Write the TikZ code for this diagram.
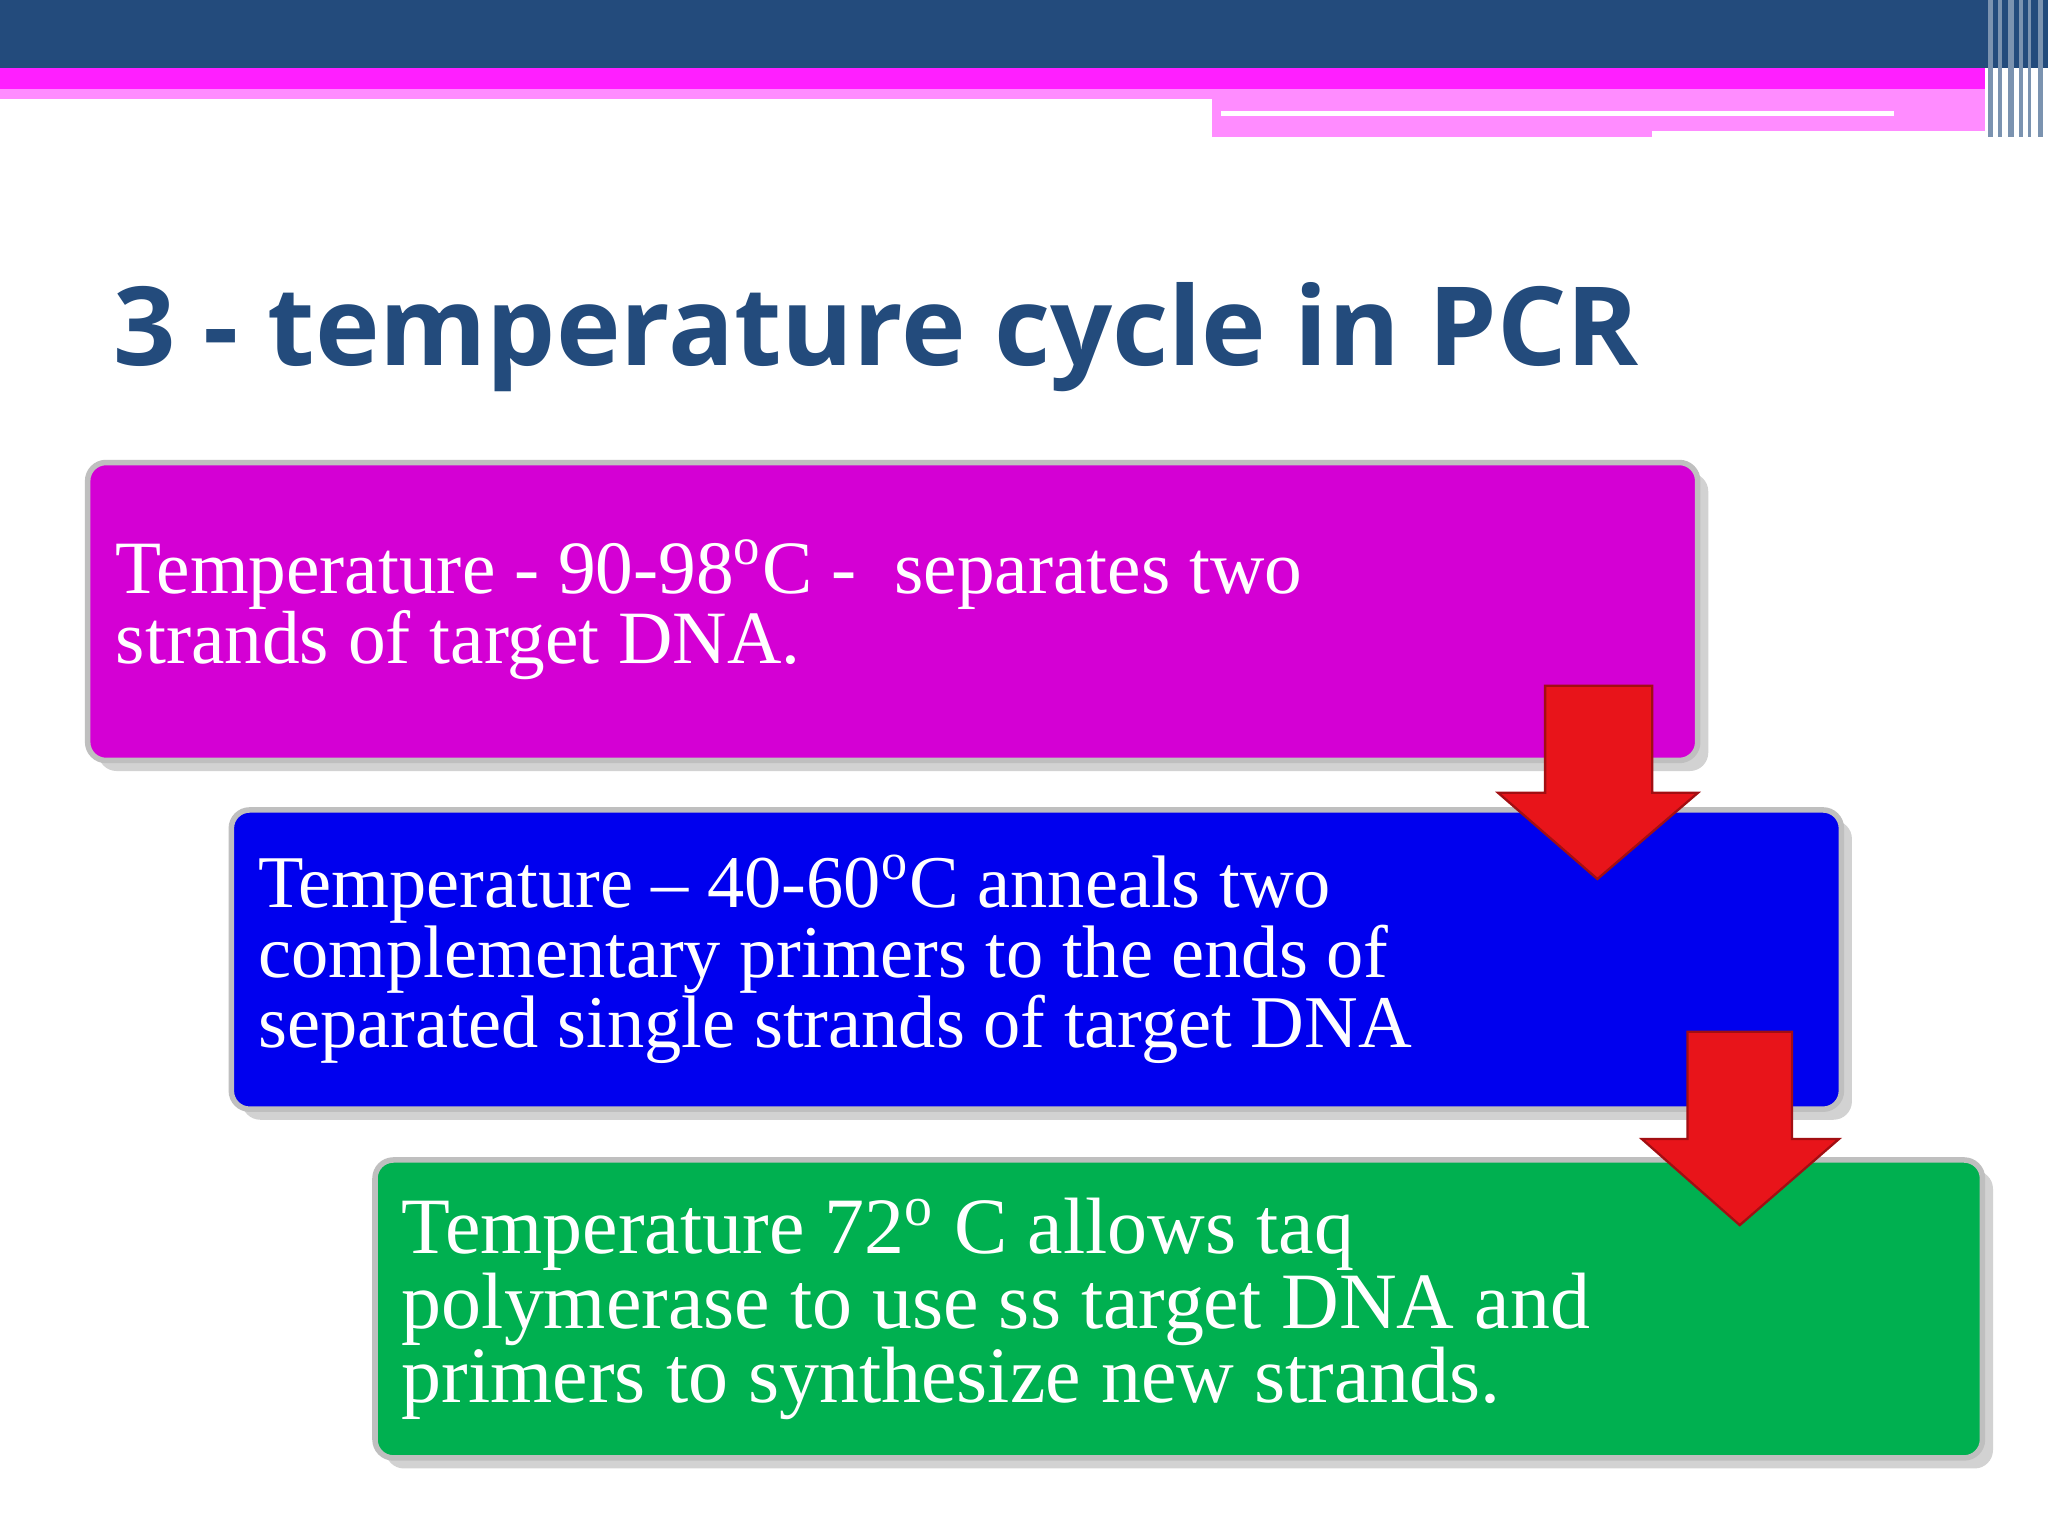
\documentclass[tikz,border=0pt]{standalone}
\usepackage{fontspec}
\setmainfont{Liberation Serif}
\newfontfamily\titlefont{Open Sans}
\definecolor{navy}{HTML}{234B7C}
\definecolor{mag}{HTML}{FF1FFF}
\definecolor{lpink}{HTML}{FF8CFF}
\definecolor{b1}{HTML}{D400D4}
\definecolor{b2}{HTML}{0000EE}
\definecolor{b3}{HTML}{00B050}
\definecolor{arr}{HTML}{E8141A}
\usetikzlibrary{shadows}
\tikzset{x=0.01cm,y=-0.01cm,
 box/.style={rounded corners=4pt, draw=black!25, line width=1.2pt, drop shadow={opacity=0.35}, anchor=north west, inner sep=0pt},
 boxtext/.style={anchor=base west, align=left, text=white, inner sep=0pt},
 redarrow/.style={fill=arr, draw=arr!70!black, line width=0.5pt}}
\begin{document}
\begin{tikzpicture}
\useasboundingbox (0,0) rectangle (1568,1176);
\fill[white] (0,0) rectangle (1568,1176);
% header
\fill[navy] (0,0) rectangle (1568,52);
\fill[mag] (0,52) rectangle (1520,68);
\fill[lpink] (0,68) rectangle (928,76);
\fill[lpink] (928,68) rectangle (1520,105);
\fill[white] (935,85) rectangle (1450,89);
\fill[white] (1265,100) rectangle (1520,105);
\foreach \x/\w in {1522/4,1530/3,1537/5,1546/3,1553/2,1560/4}{\fill[navy!60] (\x,0) rectangle (\x+\w,105);}
% title
\node[anchor=base west, inner sep=0pt, text=navy, font=\titlefont\bfseries\fontsize{23.8}{28}\selectfont] (title) at (86,280) {3 - temperature cycle in PCR};
% boxes
\node[box, fill=b1, minimum width=12.32cm, minimum height=2.28cm] (bx1) at (65,352) {};
\node[box, fill=b2, minimum width=12.32cm, minimum height=2.29cm] (bx2) at (175,618) {};
\node[box, fill=b3, minimum width=12.30cm, minimum height=2.28cm] (bx3) at (285,886) {};
\node[boxtext, font=\fontsize{16.4}{15.2}\selectfont] (t1) at (88,508) {Temperature - 90-98\textsuperscript{o}C -~ separates two\\strands of target DNA.};
\node[boxtext, font=\fontsize{16.2}{15.2}\selectfont] (t2) at (197,802) {Temperature -- 40-60\textsuperscript{o}C anneals two\\complementary primers to the ends of\\separated single strands of target DNA};
\node[boxtext, font=\fontsize{17.4}{16.2}\selectfont] (t3) at (307,1074) {Temperature 72\textsuperscript{o} C allows taq\\polymerase to use ss target DNA and\\primers to synthesize new strands.};
% arrows
\draw[redarrow] (1183,525) -- (1265,525) -- (1265,607) -- (1300,607) -- (1223,673) -- (1147,607) -- (1183,607) -- cycle;
\draw[redarrow] (1292,790) -- (1372,790) -- (1372,872) -- (1408,872) -- (1332,938) -- (1257,872) -- (1292,872) -- cycle;
\end{tikzpicture}
\end{document}
